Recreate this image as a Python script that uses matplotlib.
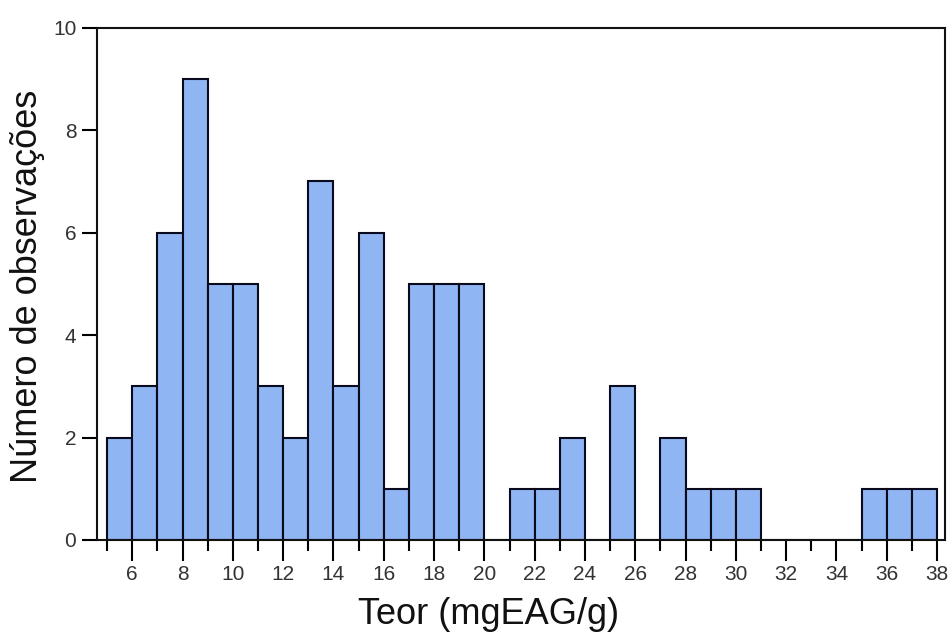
import matplotlib
matplotlib.use("Agg")
import matplotlib.pyplot as plt
from matplotlib.ticker import MultipleLocator

# histogram data, bins of width 1 starting at 5
bin_left = list(range(5, 38))
counts = [2, 3, 6, 9, 5, 5, 3, 2, 7, 3, 6, 1, 5, 5, 5, 0,
          1, 1, 2, 0, 3, 0, 2, 1, 1, 1, 0, 0, 0, 0, 1, 1, 1]
x_ticks = list(range(6, 40, 2))
y_ticks = [0, 2, 4, 6, 8, 10]

plt.rcParams['font.family'] = ['Liberation Sans', 'DejaVu Sans']

fig = plt.figure(figsize=(9.52, 6.33), dpi=100)
ax = fig.add_axes([0.102, 0.147, 0.891, 0.809])

ax.bar(bin_left, counts, width=1, align='edge', color='#8fb5f2',
       edgecolor='#0a0a1e', linewidth=1.5)

ax.set_xlim(4.6, 38.33)
ax.set_ylim(0, 10)
ax.set_xticks(x_ticks)
ax.xaxis.set_minor_locator(MultipleLocator(1))
ax.set_yticks(y_ticks)

ax.tick_params(axis='x', which='major', direction='out', length=15, width=1.5,
               labelsize=15, labelcolor='#333333', pad=3)
ax.tick_params(axis='x', which='minor', direction='out', length=8, width=1.5)
ax.tick_params(axis='y', direction='out', length=11, width=1.5,
               labelsize=15, labelcolor='#333333', pad=4)

for s in ax.spines.values():
    s.set_linewidth(1.5)
    s.set_color('#111111')

ax.set_xlabel('Teor (mgEAG/g)', fontsize=26, color='#111111')
ax.set_ylabel('Número de observações', fontsize=26, color='#111111')
ax.xaxis.set_label_coords(0.462, -0.112)
ax.yaxis.set_label_coords(-0.062, 0.496)

fig.savefig('out.png', dpi=100)
